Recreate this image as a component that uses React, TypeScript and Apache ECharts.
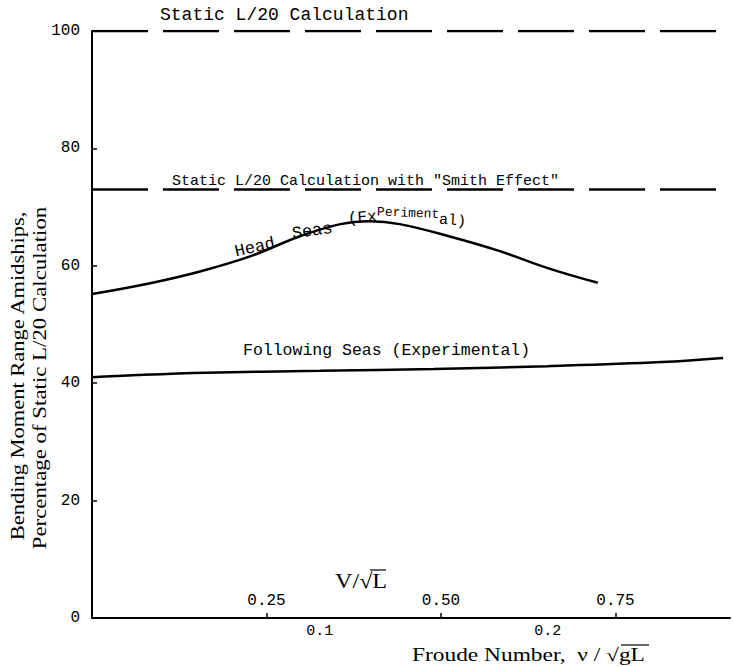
import React, { useEffect, useRef } from "react";
import * as echarts from "echarts";

// Froude number abscissae and percentage values
const headSeasFroude = [0, 0.025, 0.047, 0.07, 0.091, 0.109, 0.122, 0.135, 0.157, 0.179, 0.2, 0.222];
const headSeasValues = [55.2, 57, 59, 61.7, 65, 67.1, 67.6, 67.1, 65, 62.5, 59.6, 57.1];

const followingSeasFroude = [0, 0.02, 0.05, 0.1, 0.15, 0.2, 0.25, 0.277];
const followingSeasValues = [41.0, 41.4, 41.8, 42.1, 42.4, 42.9, 43.6, 44.3];

const staticCalcLevel = 100;
const smithEffectLevel = 73;
const froudeRange = [0, 0.28];

const froudeTickLabels = [0.1, 0.2];
const vSqrtLTickLabels = [0.25, 0.5, 0.75];
const vSqrtLMax = 0.914;

const yTicks = [0, 20, 40, 60, 80, 100];

const MONO = "Liberation Mono";
const SERIF = "Liberation Serif";

export default function App() {
  const ref = useRef<HTMLDivElement>(null);

  useEffect(() => {
    if (!ref.current) return;
    const chart = echarts.init(ref.current, null, { renderer: "svg" });

    const near = (v: number, list: number[]) => list.some((t) => Math.abs(t - v) < 1e-6);
    const txt = (text: string, x: number, y: number, size: number, family: string, extra: any = {}) => ({
      type: "text",
      x,
      y,
      rotation: extra.rotation || 0,
      scaleX: extra.scaleX || 1,
      style: {
        text,
        fontSize: size,
        fontFamily: family,
        fill: "#000",
        textAlign: extra.align || "left",
        textVerticalAlign: "middle",
      },
    });

    const option: any = {
      animation: false,
      backgroundColor: "#ffffff",
      grid: { left: 92, right: 3, top: 31, bottom: 49, containLabel: false },
      xAxis: [
        {
          type: "value",
          min: froudeRange[0],
          max: froudeRange[1],
          interval: 0.1,
          position: "bottom",
          axisLine: { show: true, lineStyle: { color: "#000", width: 2 } },
          axisTick: { show: false },
          splitLine: { show: false },
          axisLabel: {
            margin: 6,
            fontFamily: MONO,
            fontSize: 15,
            color: "#000",
            showMinLabel: false,
            showMaxLabel: false,
            formatter: (v: number) => (near(v, froudeTickLabels) ? v.toFixed(1) : ""),
          },
        },
        {
          type: "value",
          min: 0,
          max: vSqrtLMax,
          interval: 0.25,
          position: "bottom",
          axisLine: { show: false },
          axisTick: { show: true, inside: true, length: 5, lineStyle: { color: "#000", width: 1.5 } },
          splitLine: { show: false },
          axisLabel: {
            inside: true,
            margin: 9,
            fontFamily: MONO,
            fontSize: 16,
            color: "#000",
            showMinLabel: false,
            showMaxLabel: false,
            formatter: (v: number) => (near(v, vSqrtLTickLabels) ? v.toFixed(2) : ""),
          },
        },
      ],
      yAxis: {
        type: "value",
        min: 0,
        max: 100,
        interval: 20,
        axisLine: { show: true, lineStyle: { color: "#000", width: 2 } },
        axisTick: { show: true, inside: true, length: 5, lineStyle: { color: "#000", width: 1.5 } },
        splitLine: { show: false },
        axisLabel: {
          margin: 12,
          fontFamily: MONO,
          fontSize: 16,
          color: "#000",
          formatter: (v: number) => (near(v, yTicks) ? String(v) : ""),
        },
      },
      series: [
        {
          name: "Static L/20 Calculation",
          type: "line",
          xAxisIndex: 0,
          showSymbol: false,
          symbol: "none",
          data: [
            [froudeRange[0], staticCalcLevel],
            [froudeRange[1], staticCalcLevel],
          ],
          lineStyle: { color: "#000", width: 2.5, type: [56, 15] },
        },
        {
          name: "Smith Effect",
          type: "line",
          xAxisIndex: 0,
          showSymbol: false,
          symbol: "none",
          data: [
            [froudeRange[0], smithEffectLevel],
            [froudeRange[1], smithEffectLevel],
          ],
          lineStyle: { color: "#000", width: 2.5, type: [56, 15] },
        },
        {
          name: "Head Seas",
          type: "line",
          xAxisIndex: 0,
          smooth: 0.4,
          showSymbol: false,
          symbol: "none",
          data: headSeasFroude.map((x, i) => [x, headSeasValues[i]]),
          lineStyle: { color: "#000", width: 2.5 },
        },
        {
          name: "Following Seas",
          type: "line",
          xAxisIndex: 0,
          smooth: 0.4,
          showSymbol: false,
          symbol: "none",
          data: followingSeasFroude.map((x, i) => [x, followingSeasValues[i]]),
          lineStyle: { color: "#000", width: 2.5 },
        },
      ],
      graphic: [
        txt("Static L/20 Calculation", 160, 15, 18, MONO),
        txt('Static L/20 Calculation with "Smith Effect"', 172, 181, 15, MONO),
        txt("Head", 235, 252, 17, MONO, { rotation: 0.22 }),
        txt("Seas", 292, 234, 17, MONO, { rotation: 0.14 }),
        txt("(Ex", 348, 219, 16, MONO, { rotation: 0.08 }),
        txt("Periment", 377, 212, 13, MONO, { rotation: -0.04 }),
        txt("al)", 439, 220, 15, MONO, { rotation: -0.08 }),
        txt("Following Seas (Experimental)", 243, 350, 16.5, MONO),
        txt("Bending Moment Range Amidships,", 18, 376, 18, SERIF, {
          rotation: Math.PI / 2,
          align: "center",
          scaleX: 1.25,
        }),
        txt("Percentage of Static L/20 Calculation", 40, 378, 18, SERIF, {
          rotation: Math.PI / 2,
          align: "center",
          scaleX: 1.27,
        }),
        txt("V/√L", 335, 581, 21, SERIF, { scaleX: 1.15 }),
        {
          type: "line",
          shape: { x1: 370, y1: 570, x2: 386, y2: 570 },
          style: { stroke: "#000", lineWidth: 1.2 },
        },
        txt("Froude Number,  ν / √gL", 412, 655, 18, SERIF, { scaleX: 1.3 }),
        {
          type: "line",
          shape: { x1: 621, y1: 645, x2: 649, y2: 645 },
          style: { stroke: "#000", lineWidth: 1.2 },
        },
      ],
    };

    chart.setOption(option);
    return () => chart.dispose();
  }, []);

  return (
    <div
      ref={ref}
      style={{ position: "fixed", left: 0, top: 0, width: 733, height: 667, background: "#fff" }}
    />
  );
}
